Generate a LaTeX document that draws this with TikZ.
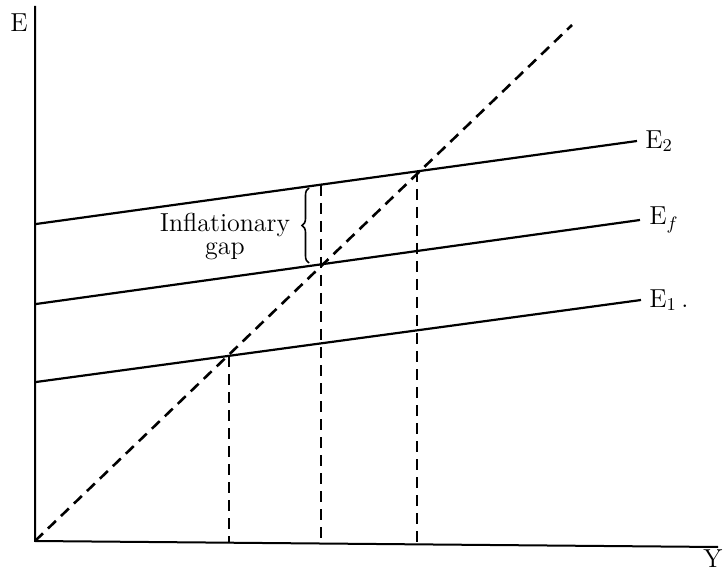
\documentclass[tikz,border=0pt]{standalone}
\usetikzlibrary{decorations.pathreplacing}
\begin{document}
\begin{tikzpicture}[x=0.5pt,y=-0.5pt,
  every node/.style={font=\fontsize{13}{11.5}\selectfont},
  axis/.style={line width=1pt},
  curve/.style={line width=1.1pt},
  guide/.style={line width=1.3pt, dash pattern=on 5.5pt off 3.5pt},
  gapbrace/.style={line width=0.8pt, decorate, decoration={brace, amplitude=3.5pt}}]
  \useasboundingbox (0,0) rectangle (723,572);
  \coordinate (O) at (35,541);
  \coordinate (Etop) at (35,6);
  \coordinate (Yend) at (718,547);
  \draw[axis] (Etop) -- (O) -- (Yend);
  \node (Elab) at (19,23) {E};
  \node[inner sep=1pt] (Ylab) at (713,559) {Y};
  \coordinate (diag) at (572,25);
  \draw[guide] (O) -- (diag);
  \coordinate (e2a) at (36,224);
  \coordinate (e2b) at (637,141);
  \coordinate (efa) at (36,304);
  \coordinate (efb) at (640,220);
  \coordinate (e1a) at (36,382);
  \coordinate (e1b) at (641,300);
  \draw[curve] (e2a) -- (e2b);
  \draw[curve] (efa) -- (efb);
  \draw[curve] (e1a) -- (e1b);
  \node[anchor=west, inner sep=1pt] (E2lab) at ([xshift=3pt]e2b) {E$_2$};
  \node[anchor=west, inner sep=1pt] (Eflab) at ([xshift=3.5pt]efb) {E$_f$};
  \node[anchor=west, inner sep=1pt] (E1lab) at ([xshift=3pt]e1b) {E$_1$\,.};
  \coordinate (v1t) at (229,356);
  \coordinate (v1b) at (229,543);
  \coordinate (v2t) at (321,185);
  \coordinate (v2b) at (321,544);
  \coordinate (v3t) at (417,171);
  \coordinate (v3b) at (417,545);
  \draw[guide] (v1t) -- (v1b);
  \draw[guide] (v2t) -- (v2b);
  \draw[guide] (v3t) -- (v3b);
  \coordinate (gbot) at (309,263);
  \coordinate (gtop) at (309,188);
  \draw[gapbrace] (gbot) -- (gtop);
  \node[align=center] (gaplab) at (225,237) {Inflationary\\gap};
\end{tikzpicture}
\end{document}
